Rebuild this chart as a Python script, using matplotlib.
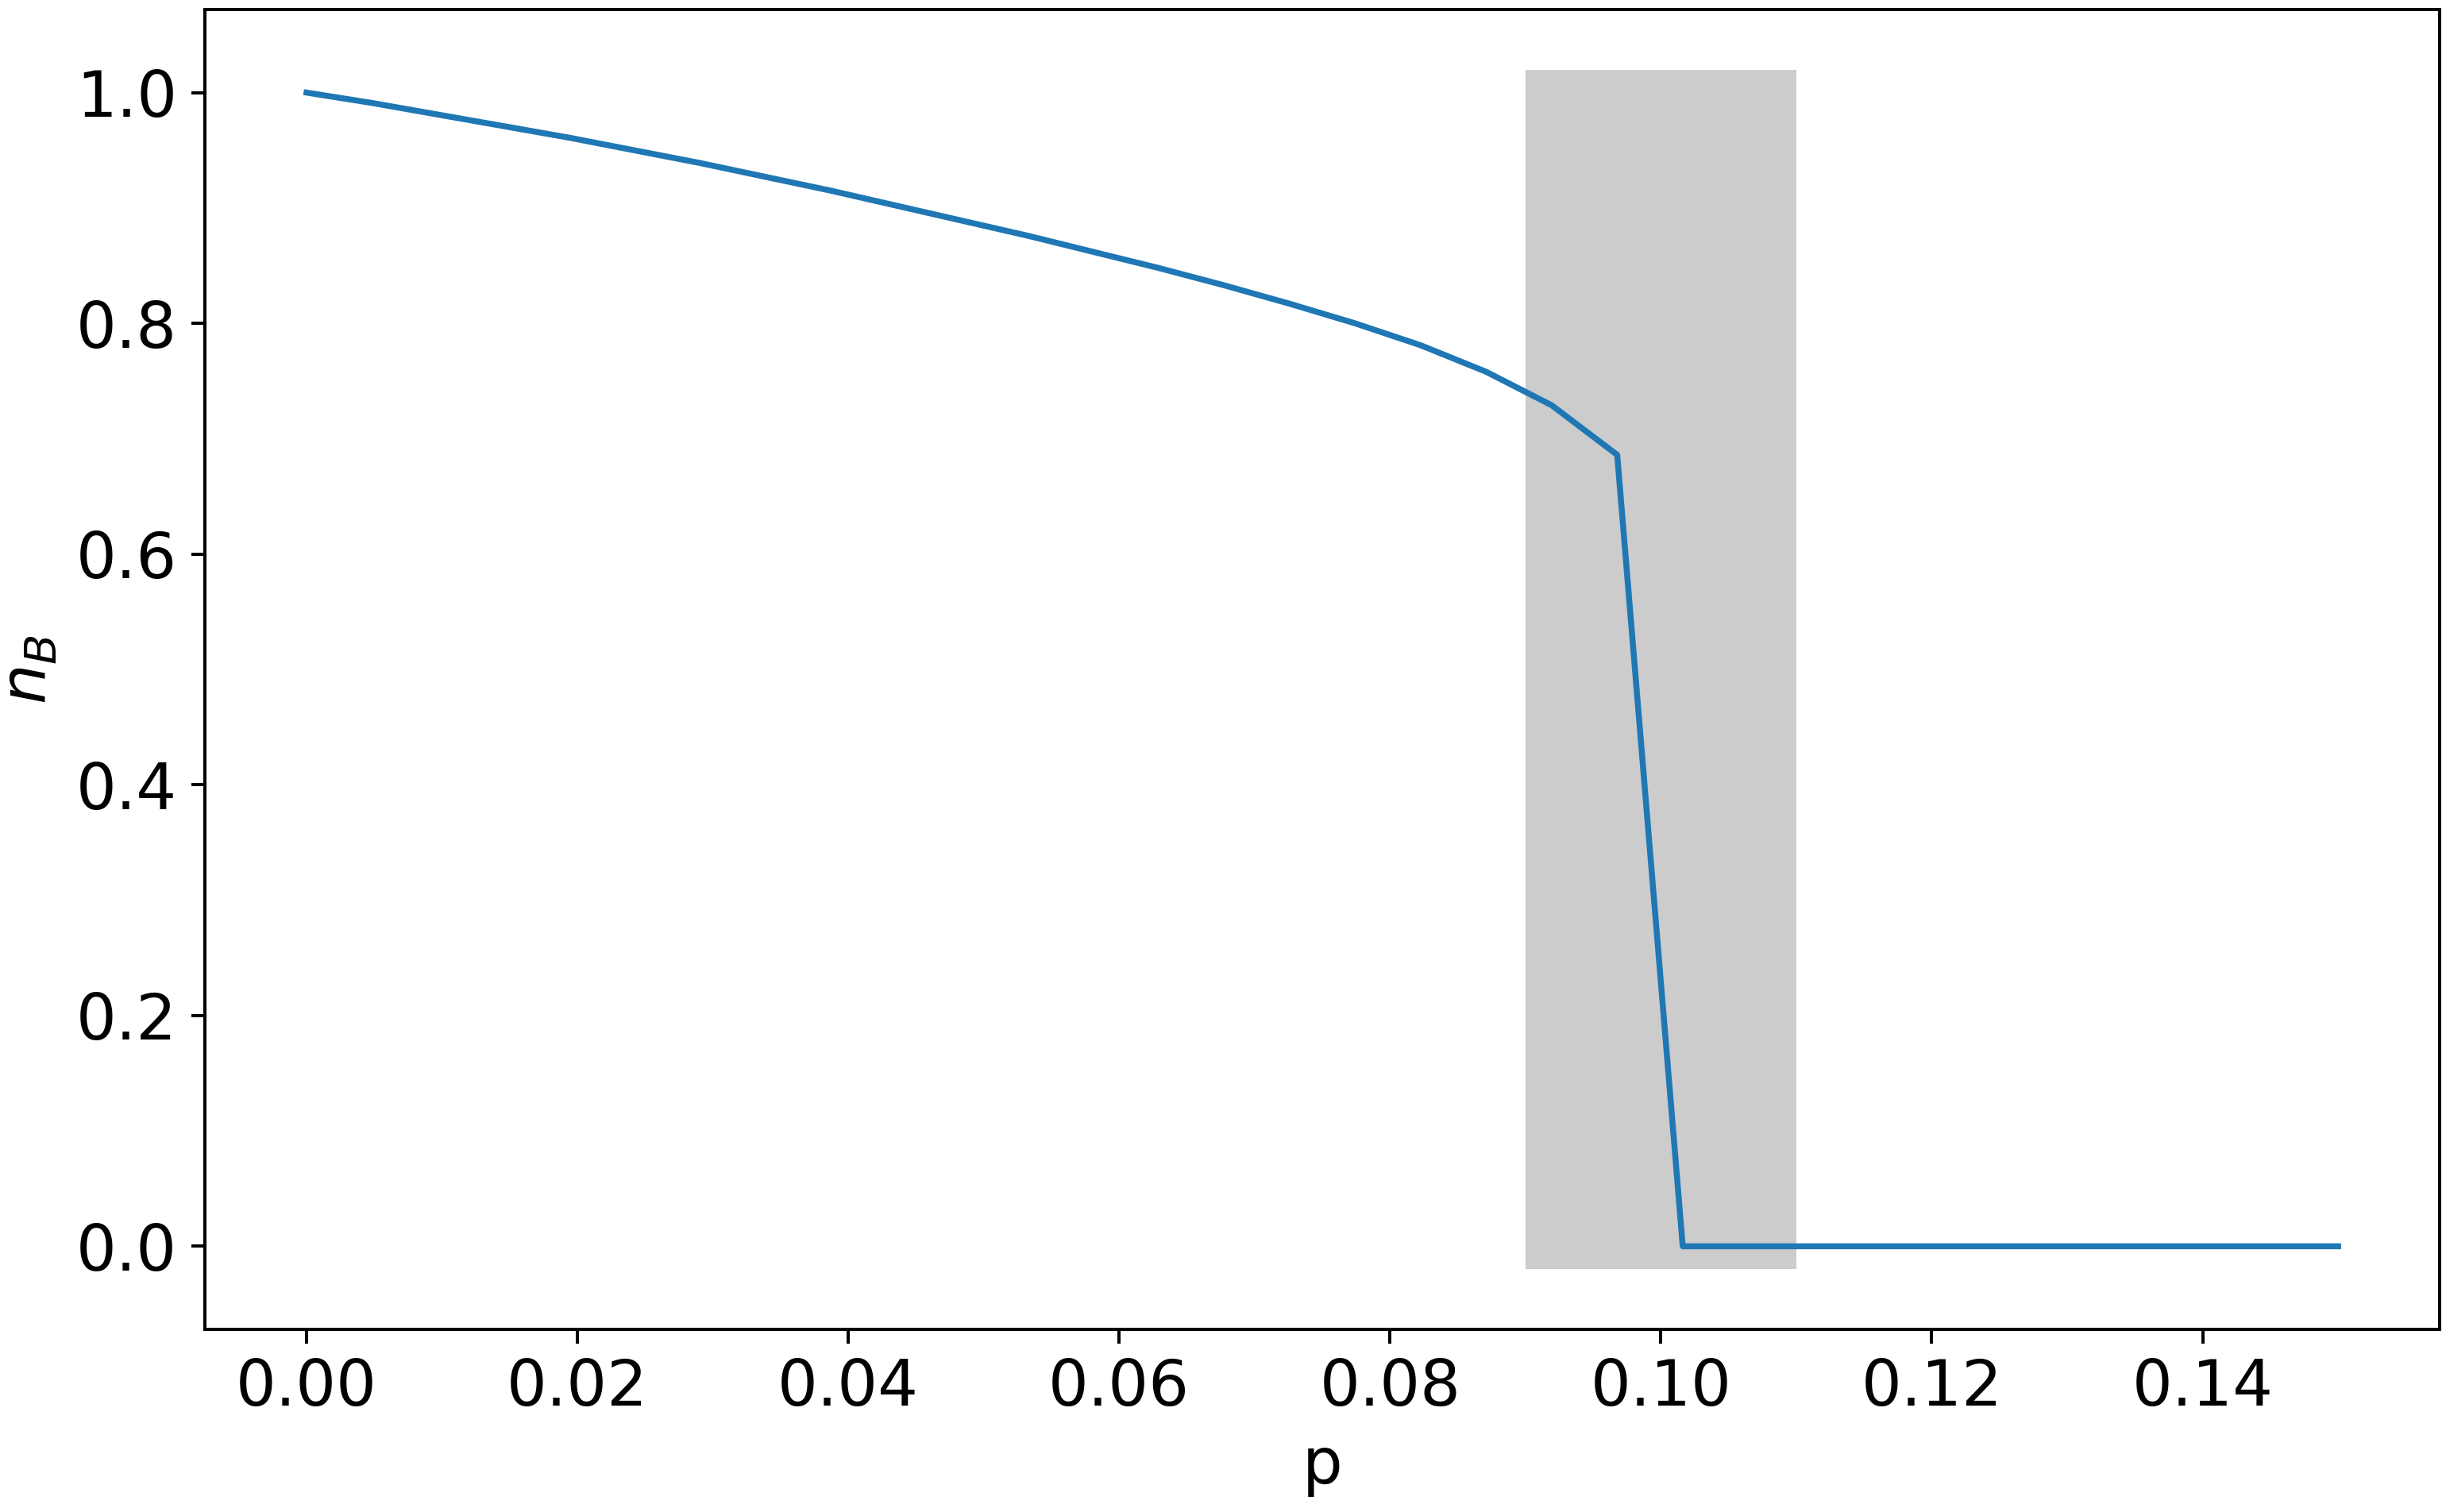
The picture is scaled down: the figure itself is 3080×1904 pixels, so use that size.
import numpy as np
import matplotlib
matplotlib.use("Agg")
import matplotlib.pyplot as plt

# p sampled on 32 points from 0 to 0.15
p = np.linspace(0, 0.15, 32)
n_B = [1.000, 0.991, 0.981, 0.971, 0.961, 0.950, 0.939, 0.927,
       0.915, 0.902, 0.889, 0.876, 0.862, 0.848, 0.833, 0.817,
       0.800, 0.781, 0.758, 0.729, 0.686, 0.0, 0.0, 0.0,
       0.0, 0.0, 0.0, 0.0, 0.0, 0.0, 0.0, 0.0]

# shaded transition region
shade_x = [0.09, 0.11]
shade_lo = -0.02
shade_hi = 1.02


def main():
    plt.rcParams["font.size"] = 16
    fig = plt.figure(figsize=(3080 / 360, 1904 / 360), dpi=360)
    ax = fig.add_subplot(111)
    fig.subplots_adjust(left=0.0838, right=0.9974, bottom=0.1208, top=0.9937)

    ax.fill_between(shade_x, shade_lo, shade_hi, color="grey", alpha=0.4, linewidth=0)
    ax.plot(p, n_B)

    ax.set_xlabel("p")
    ax.set_ylabel("$n_B$")
    fig.savefig("out.png", dpi=360)


if __name__ == "__main__":
    main()
